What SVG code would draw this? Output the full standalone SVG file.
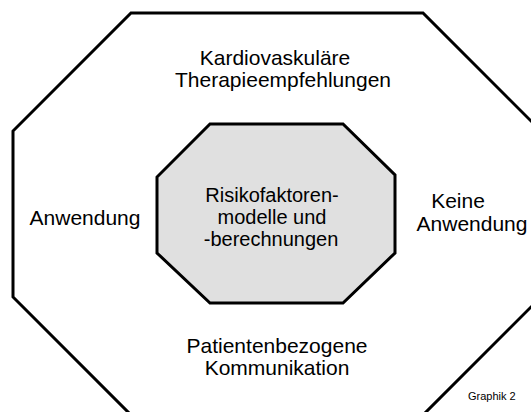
<svg xmlns="http://www.w3.org/2000/svg" width="531" height="412" viewBox="0 0 531 412">
<style>
.oct{stroke:#000;stroke-width:3;stroke-linejoin:miter}
.t{font-family:"Liberation Sans",Arial,sans-serif;font-size:21px;fill:#000;text-anchor:middle}
.c{font-size:20px}
.s{font-family:"Liberation Sans",Arial,sans-serif;font-size:11px;fill:#000}
</style>
<rect width="531" height="412" fill="#fff"/>
<g id="outer">
<polygon class="oct" fill="#fff" points="131,13 423,13 541,131 541,297 423,415 131,415 13,297 13,131"/>
<text class="t" x="275" y="65">Kardiovaskuläre</text>
<text class="t" x="283" y="87">Therapieempfehlungen</text>
<text class="t" x="85" y="225">Anwendung</text>
<text class="t" x="458" y="208">Keine</text>
<text class="t" x="472" y="231">Anwendung</text>
<text class="t" x="277" y="353">Patientenbezogene</text>
<text class="t" x="277" y="375">Kommunikation</text>
</g>
<g id="inner">
<polygon class="oct" fill="#e0e0e0" points="210,124 343,124 395,175 395,253 343,303 210,303 157,253 157,177"/>
<text class="t c" x="272" y="202">Risikofaktoren-</text>
<text class="t c" x="272" y="224">modelle und</text>
<text class="t c" x="271" y="246">-berechnungen</text>
</g>
<g id="connectors"/>
<text class="s" x="468" y="400">Graphik 2</text>
</svg>
